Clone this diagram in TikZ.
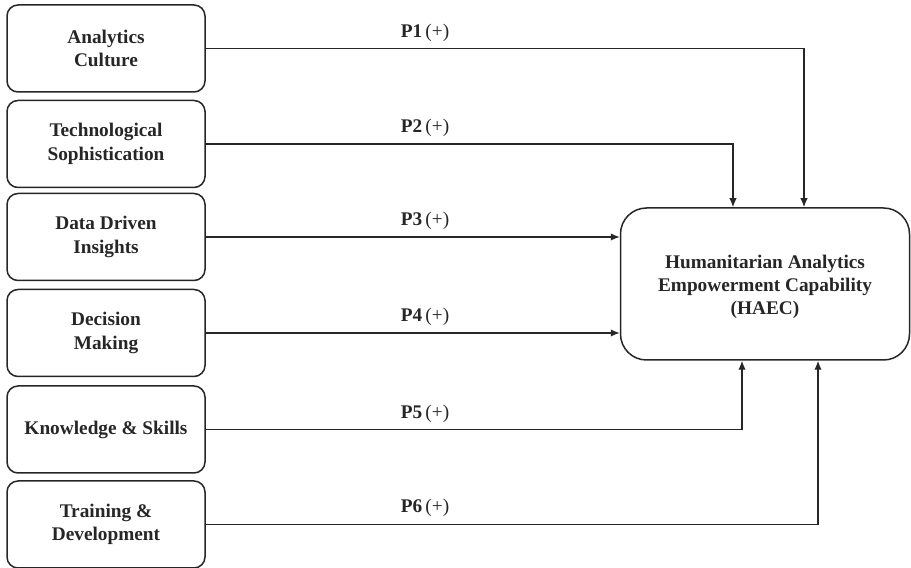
\documentclass[tikz,border=0pt]{standalone}
\usepackage{fontspec}
\setmainfont{Liberation Serif}
\usetikzlibrary{arrows.meta}
\definecolor{ink}{HTML}{262626}
\begin{document}
\begin{tikzpicture}[x=1pt,y=1pt,
  font=\fontsize{19.3}{23.3}\selectfont\bfseries,
  src/.style={draw=ink,line width=1.5pt,rounded corners=11pt,minimum width=198pt,minimum height=87pt,align=center,text=ink,inner sep=0pt},
  tgt/.style={draw=ink,line width=1.5pt,rounded corners=26pt,minimum width=289pt,minimum height=152pt,align=center,text=ink,inner sep=0pt},
  link/.style={draw=ink,line width=1.4pt,-{Latex[length=9pt,width=7.5pt]}},
  lab/.style={anchor=south,text=ink,inner sep=0pt}]
\useasboundingbox (0,0) rectangle (911,568);
\node[src] (b1) at (106,519.5) {Analytics\\Culture};
\node[src] (b2) at (106,424) {Technological\\Sophistication};
\node[src] (b3) at (106,331) {Data Driven\\Insights};
\node[src] (b4) at (106,235) {Decision\\Making};
\node[src] (b5) at (106,138.5) {Knowledge \& Skills};
\node[src] (b6) at (106,43.5) {Training \&\\Development};
\node[tgt] (h) at (765,284) {};
\node[text=ink,align=center,inner sep=0pt] (ht) at (765,281) {Humanitarian Analytics\\Empowerment Capability\\(HAEC)};
\draw[link] (b1.east) -| ([xshift=39pt]h.north);
\draw[link] (b2.east) -| ([xshift=-32pt]h.north);
\draw[link] (b3.east) -- (b3.east -| h.west);
\draw[link] (b4.east) -- (b4.east -| h.west);
\draw[link] (b5.east) -| ([xshift=-23pt]h.south);
\draw[link] (b6.east) -| ([xshift=53pt]h.south);
\node[lab] (l1) at (425,526) {P1\,\mdseries(+)};
\node[lab] (l2) at (425,431) {P2\,\mdseries(+)};
\node[lab] (l3) at (425,338) {P3\,\mdseries(+)};
\node[lab] (l4) at (425,242) {P4\,\mdseries(+)};
\node[lab] (l5) at (425,145) {P5\,\mdseries(+)};
\node[lab] (l6) at (425,51) {P6\,\mdseries(+)};
\end{tikzpicture}
\end{document}
